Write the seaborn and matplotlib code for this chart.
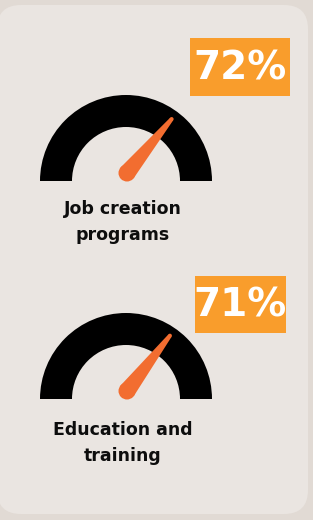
import numpy as np
import matplotlib
matplotlib.use("Agg")
import matplotlib.pyplot as plt
from matplotlib.patches import Wedge, Circle, Polygon, FancyBboxPatch
import seaborn as sns

# Données
categories = ["Job creation\nprograms", "Education and\ntraining"]
values = [72, 71]
value_labels = ["72%", "71%"]

sns.set_theme(style="white")
plt.rcParams['font.family'] = ['DejaVu Sans']

W, H = 313, 520
BG = "#e1dad4"
CARD = "#eae5e1"
ORANGE_BADGE = "#f99d2c"
ORANGE_NEEDLE = "#f26d30"

fig = plt.figure(figsize=(W / 100, H / 100), dpi=100, facecolor=BG)
ax = fig.add_axes([0, 0, 1, 1])
ax.set_xlim(0, W)
ax.set_ylim(0, H)
ax.set_aspect("equal")
ax.axis("off")

# Carte arrondie
card = FancyBboxPatch((-3, 6), 311, 509, boxstyle="round,pad=0,rounding_size=24",
                      facecolor=CARD, edgecolor="none")
ax.add_patch(card)

# positions de chaque jauge (pixels depuis le haut)
centers_y = [181, 399]
badges = [(190, 38, 100, 58), (195, 276, 91, 57)]
label_y = [222, 443]
cx = 126
r_out, r_in = 86, 54

for cat, v, lab, cy_top, badge, ly in zip(categories, values, value_labels,
                                          centers_y, badges, label_y):
    cy = H - cy_top
    ax.add_patch(Wedge((cx, cy), r_out, 0, 180, width=r_out - r_in,
                       facecolor="black", edgecolor="none"))
    # aiguille
    ang = np.deg2rad(180 * (1 - v / 100))
    px, py = cx + 1, cy + 8
    length = 70
    d = np.array([np.cos(ang), np.sin(ang)])
    n = np.array([-d[1], d[0]])
    base = np.array([px, py])
    tip = base + d * length
    poly = [base + n * 8.5, tip + n * 2, tip - n * 2, base - n * 8.5]
    ax.add_patch(Polygon(poly, closed=True, facecolor=ORANGE_NEEDLE, edgecolor="none"))
    ax.add_patch(Circle(tuple(base), 8.5, facecolor=ORANGE_NEEDLE, edgecolor="none"))
    ax.add_patch(Circle(tuple(tip), 2, facecolor=ORANGE_NEEDLE, edgecolor="none"))

    # badge
    bx, by, bw, bh = badge
    ax.add_patch(plt.Rectangle((bx, H - by - bh), bw, bh, facecolor=ORANGE_BADGE,
                               edgecolor="none"))
    ax.text(bx + bw / 2, H - by - bh / 2 + 3, lab, color="white", fontsize=28,
            fontweight="bold", ha="center", va="center_baseline")

    ax.text(123, H - ly, cat, color="#0d0d0d", fontsize=12.5, fontweight="bold",
            ha="center", va="center", linespacing=1.55)

fig.savefig("out.png", dpi=100, facecolor=BG)
